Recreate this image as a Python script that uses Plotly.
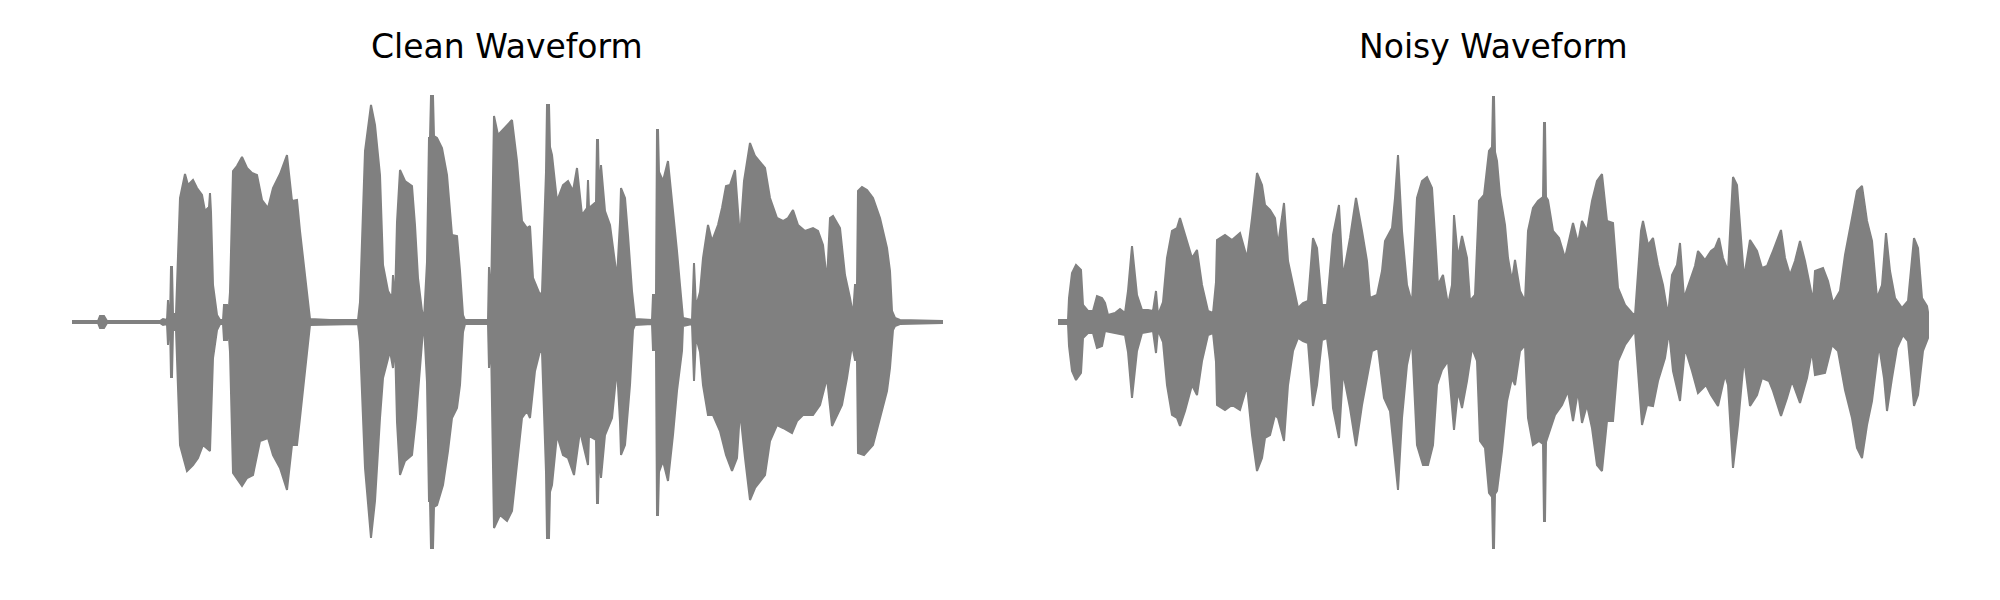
import plotly.graph_objects as go

# ---- Clean waveform envelope (time in frames, amplitude in arbitrary units) ----
clean_upper_t = [0, 26, 28, 32, 35, 88, 91, 95, 96, 97, 98, 99, 100, 101, 104, 106, 108, 113, 116, 121, 125, 130, 133, 137, 138, 139, 141, 145, 148,
                 151, 152, 155, 156, 158, 161, 165, 170, 175, 180, 185, 190, 196, 201, 208, 215, 220, 225, 228, 235, 238, 258, 286, 288, 293,
                 299, 303, 308, 311, 316, 320, 321, 323, 325, 328, 333, 340, 343, 346, 350, 352, 355, 357, 358, 359, 361, 362, 365, 370, 375, 380, 385,
                 388, 391, 393, 416, 417, 419, 421, 422, 426, 433, 440, 445, 450, 455, 458, 461, 468, 470, 474, 475, 477, 478, 480, 485, 491, 496, 501,
                 505, 510, 515, 516, 517, 521, 524, 525, 526, 527, 529, 533, 538, 545, 548, 549, 553, 556, 560, 563, 580, 581, 584, 585, 586, 587, 591, 596,
                 601, 605, 608, 611, 620, 622, 624, 628, 631, 636, 640, 646, 650, 654, 658, 663, 668, 672, 678, 683, 693, 698, 705, 711, 716,
                 721, 726, 733, 741, 746, 751, 755, 758, 761, 768, 773, 778, 781, 783, 785, 786, 790, 795, 801, 808, 815, 818, 820, 823, 828, 870]
clean_upper = [1, 1, 6, 6, 1, 1, 3, 2, 22, 3, 3, 55, 55, 8, 8, 60, 124, 148, 137, 142, 134, 127, 111, 115, 129, 110, 37, 7, 2,
               2, 17, 17, 2, 30, 151, 156, 165, 154, 149, 147, 122, 114, 134, 148, 167, 121, 122, 91, 31, 3, 2, 2, 20, 171,
               217, 197, 147, 57, 31, 24, 47, 20, 100, 152, 141, 136, 97, 44, 11, 3, 60, 184, 184, 226, 226, 186, 184, 174, 147, 87, 86,
               51, 7, 2, 2, 55, 20, 150, 206, 187, 194, 202, 161, 101, 94, 96, 44, 27, 30, 150, 217, 217, 175, 167, 121, 137, 141, 131,
               154, 107, 114, 142, 114, 117, 120, 182, 182, 130, 157, 111, 97, 44, 100, 134, 124, 87, 31, 3, 2, 27, 27, 192, 192, 150, 141, 161,
               114, 71, 37, 4, 2, 59, 15, 30, 64, 97, 81, 97, 114, 136, 137, 152, 84, 141, 179, 166, 154, 124, 104, 101, 104,
               112, 97, 91, 94, 91, 77, 41, 104, 106, 94, 47, 24, 7, 37, 37, 131, 135, 132, 124, 104, 74, 51, 11, 4, 2, 1]

clean_lower_t = [0, 26, 28, 32, 35, 88, 91, 95, 96, 97, 98, 99, 100, 101, 104, 106, 108, 115, 121, 126, 131, 138, 139, 141, 145, 148, 151, 152,
                 155, 156, 158, 161, 170, 175, 181, 188, 196, 201, 208, 215, 220, 225, 228, 235, 238, 286, 288, 293, 299, 303, 308, 311,
                 318, 321, 323, 325, 328, 333, 340, 344, 348, 351, 352, 355, 357, 358, 359, 361, 362, 365, 371, 376, 380, 385, 388, 391, 393, 416,
                 417, 419, 421, 422, 428, 435, 440, 445, 450, 455, 458, 463, 468, 470, 474, 475, 477, 478, 480, 485, 491, 496, 502, 508, 516, 517,
                 521, 524, 525, 526, 527, 529, 533, 540, 545, 548, 549, 553, 558, 561, 563, 580, 581, 584, 585, 586, 587, 591, 596, 601, 605, 610, 611,
                 620, 622, 624, 628, 631, 636, 641, 648, 654, 660, 665, 668, 673, 678, 683, 693, 698, 705, 711, 720, 725, 731, 741, 748,
                 755, 760, 765, 770, 775, 780, 783, 785, 786, 792, 801, 808, 815, 818, 821, 823, 828, 870]
clean_lower = [1, 1, 6, 6, 1, 1, 3, 2, 23, 3, 3, 55, 55, 8, 8, 60, 123, 149, 143, 136, 123, 129, 110, 36, 8, 2, 2, 18,
               18, 2, 30, 151, 164, 156, 153, 119, 116, 133, 146, 168, 123, 123, 96, 33, 3, 2, 20, 146, 216, 179, 96, 56,
               29, 46, 20, 100, 153, 139, 133, 96, 46, 8, 3, 60, 179, 179, 226, 226, 185, 183, 163, 129, 96, 86, 63, 10, 2, 2,
               46, 20, 150, 206, 193, 199, 189, 146, 96, 89, 96, 49, 29, 30, 150, 216, 216, 170, 163, 113, 133, 136, 153, 109, 143, 114,
               116, 118, 181, 181, 130, 156, 113, 96, 46, 100, 133, 123, 63, 8, 3, 2, 28, 28, 193, 193, 150, 139, 159, 113, 69, 29, 4,
               2, 59, 15, 30, 63, 93, 93, 109, 133, 149, 136, 89, 136, 178, 166, 153, 119, 103, 106, 111, 99, 93, 93, 83,
               56, 104, 93, 83, 56, 23, 38, 38, 131, 133, 123, 96, 69, 46, 8, 4, 2, 1]

# ---- Noisy waveform envelope ----
noisy_upper_t = [0, 10, 11, 14, 18, 23, 25, 30, 35, 39, 44, 47, 50, 57, 62, 67, 70, 74, 79, 84, 90, 95, 98, 100, 105, 109, 114, 119,
                 122, 127, 134, 139, 144, 150, 155, 158, 159, 167, 174, 182, 189, 194, 199, 204, 207, 212, 217, 220, 226, 230, 235, 240,
                 245, 250, 255, 259, 264, 269, 272, 275, 281, 285, 292, 298, 304, 309, 312, 319, 324, 327, 334, 337, 340, 344, 349, 354,
                 359, 364, 369, 374, 377, 380, 385, 390, 394, 396, 400, 404, 409, 412, 417, 421, 426, 431, 434, 435, 436, 437, 439, 442, 447, 450, 454,
                 457, 462, 467, 470, 475, 480, 485, 486, 487, 488, 490, 495, 501, 507, 515, 520, 524, 529, 534, 539, 544, 549, 555, 560, 567, 574, 577,
                 583, 585, 590, 595, 600, 605, 610, 614, 619, 622, 626, 632, 637, 640, 647, 653, 657, 661, 665, 670, 673, 675, 679, 682,
                 686, 692, 699, 704, 709, 715, 723, 727, 732, 737, 742, 747, 752, 755, 757, 765, 770, 775, 782, 787, 794, 799, 804, 809,
                 814, 819, 824, 828, 832, 837, 844, 850, 856, 860, 864, 869, 870]
noisy_upper = [2, 2, 24, 49, 57, 52, 17, 11, 11, 26, 24, 19, 7, 9, 13, 9, 31, 76, 27, 12, 12, 11, 31, 7, 20, 64, 91, 94,
               104, 87, 64, 72, 37, 11, 9, 40, 82, 87, 82, 89, 64, 104, 149, 137, 117, 112, 104, 77, 119, 61, 37, 14,
               19, 21, 84, 74, 17, 17, 51, 87, 117, 45, 84, 124, 91, 61, 24, 27, 51, 81, 94, 124, 167, 91, 37, 19,
               124, 141, 145, 134, 87, 37, 47, 17, 37, 107, 64, 86, 64, 21, 27, 121, 127, 171, 175, 225, 225, 170, 161, 127, 97, 64, 41,
               62, 31, 21, 91, 114, 121, 125, 199, 199, 125, 122, 91, 84, 64, 99, 79, 101, 91, 121, 141, 148, 101, 99, 34, 17, 9, 7,
               91, 101, 77, 84, 57, 37, 7, 47, 57, 79, 24, 41, 56, 71, 62, 71, 74, 84, 64, 51, 104, 145, 137, 97,
               44, 82, 71, 54, 56, 71, 92, 64, 47, 61, 81, 61, 37, 21, 51, 54, 41, 19, 31, 67, 104, 131, 136, 101,
               81, 24, 37, 89, 51, 24, 14, 21, 84, 74, 24, 16, 10]

noisy_lower_t = [0, 10, 11, 14, 18, 23, 25, 30, 35, 39, 44, 47, 57, 67, 70, 74, 79, 84, 95, 98, 100, 105, 109, 114, 119, 122, 127, 134,
                 139, 144, 150, 155, 158, 159, 167, 174, 182, 189, 194, 199, 204, 207, 212, 217, 220, 226, 230, 235, 240, 245, 250, 255,
                 259, 264, 269, 272, 275, 281, 285, 292, 298, 304, 309, 314, 320, 326, 332, 340, 344, 349, 354, 359, 365, 370, 375, 379,
                 384, 390, 396, 400, 404, 409, 414, 419, 422, 427, 431, 434, 435, 436, 437, 439, 444, 449, 454, 457, 462, 467, 470, 475, 481, 485, 486, 487, 488, 490,
                 497, 504, 510, 515, 520, 524, 529, 534, 539, 544, 549, 555, 560, 567, 574, 577, 584, 589, 595, 600, 607, 611, 615, 622,
                 627, 634, 640, 648, 653, 660, 667, 670, 675, 680, 686, 692, 699, 704, 711, 715, 723, 729, 734, 742, 749, 754, 757, 767,
                 774, 780, 787, 794, 799, 804, 809, 814, 821, 826, 829, 834, 839, 845, 850, 856, 860, 865, 870]
noisy_lower = [2, 2, 24, 49, 58, 51, 16, 11, 11, 26, 24, 9, 11, 13, 30, 76, 29, 11, 9, 31, 8, 20, 63, 93, 96, 104, 89, 63,
               73, 39, 13, 11, 40, 83, 88, 83, 88, 64, 113, 149, 136, 116, 113, 93, 96, 119, 63, 29, 16, 19, 21, 84,
               63, 18, 16, 39, 86, 116, 50, 86, 124, 83, 56, 29, 26, 76, 89, 168, 96, 43, 19, 123, 143, 143, 123, 63,
               48, 39, 108, 69, 86, 59, 26, 39, 119, 126, 171, 175, 226, 226, 172, 169, 129, 79, 56, 63, 29, 23, 96, 123, 119, 122, 199, 199, 120, 116,
               93, 83, 69, 99, 69, 101, 83, 106, 143, 149, 99, 99, 39, 23, 13, 9, 103, 83, 84, 59, 36, 9, 49, 79,
               26, 49, 71, 63, 73, 84, 53, 63, 146, 103, 36, 84, 73, 56, 59, 69, 94, 76, 59, 81, 56, 29, 53, 51,
               23, 29, 68, 96, 126, 136, 103, 79, 23, 56, 89, 56, 26, 13, 19, 84, 73, 29, 16]

titles = ["Clean Waveform", "Noisy Waveform"]
wave_color = "#808080"

for a, b in [(clean_upper_t, clean_upper), (clean_lower_t, clean_lower),
             (noisy_upper_t, noisy_upper), (noisy_lower_t, noisy_lower)]:
    assert len(a) == len(b), (len(a), len(b))

fig = go.Figure()

panels = [
    (clean_upper_t, clean_upper, clean_lower_t, clean_lower, "x", "y"),
    (noisy_upper_t, noisy_upper, noisy_lower_t, noisy_lower, "x2", "y2"),
]
for ut, uv, lt, lv, xa, ya in panels:
    xs = list(ut) + list(reversed(lt))
    ys = list(uv) + [-v for v in reversed(lv)]
    fig.add_trace(go.Scatter(
        x=xs, y=ys, mode="lines", fill="toself",
        fillcolor=wave_color, line=dict(color=wave_color, width=2),
        xaxis=xa, yaxis=ya, hoverinfo="skip", showlegend=False,
    ))

W, H = 2000, 600
n_frames = 870
pad = 0.05 * n_frames
span = n_frames + 2 * pad
left_start = 72 - pad
right_start = 1058 - pad

ax_common = dict(visible=False, showgrid=False, zeroline=False, fixedrange=True)
fig.update_layout(
    width=W, height=H,
    margin=dict(l=0, r=0, t=0, b=0),
    paper_bgcolor="white", plot_bgcolor="white",
    showlegend=False,
    xaxis=dict(domain=[left_start / W, (left_start + span) / W], range=[-pad, n_frames + pad], anchor="y", **ax_common),
    xaxis2=dict(domain=[right_start / W, (right_start + span) / W], range=[-pad, n_frames + pad], anchor="y2", **ax_common),
    yaxis=dict(domain=[0, 1], range=[-278, 322], anchor="x", **ax_common),
    yaxis2=dict(domain=[0, 1], range=[-278, 322], anchor="x2", **ax_common),
)

centers = [(left_start + span / 2) / W, (right_start + span / 2) / W]
for title, cx in zip(titles, centers):
    fig.add_annotation(
        text=title, x=cx, y=1 - 46.5 / H, xref="paper", yref="paper",
        xanchor="center", yanchor="middle", showarrow=False,
        font=dict(family="DejaVu Sans", size=33, color="black"),
    )

fig.write_html("out.html", config={"displayModeBar": False},
               post_script="document.body.style.margin='0';")
